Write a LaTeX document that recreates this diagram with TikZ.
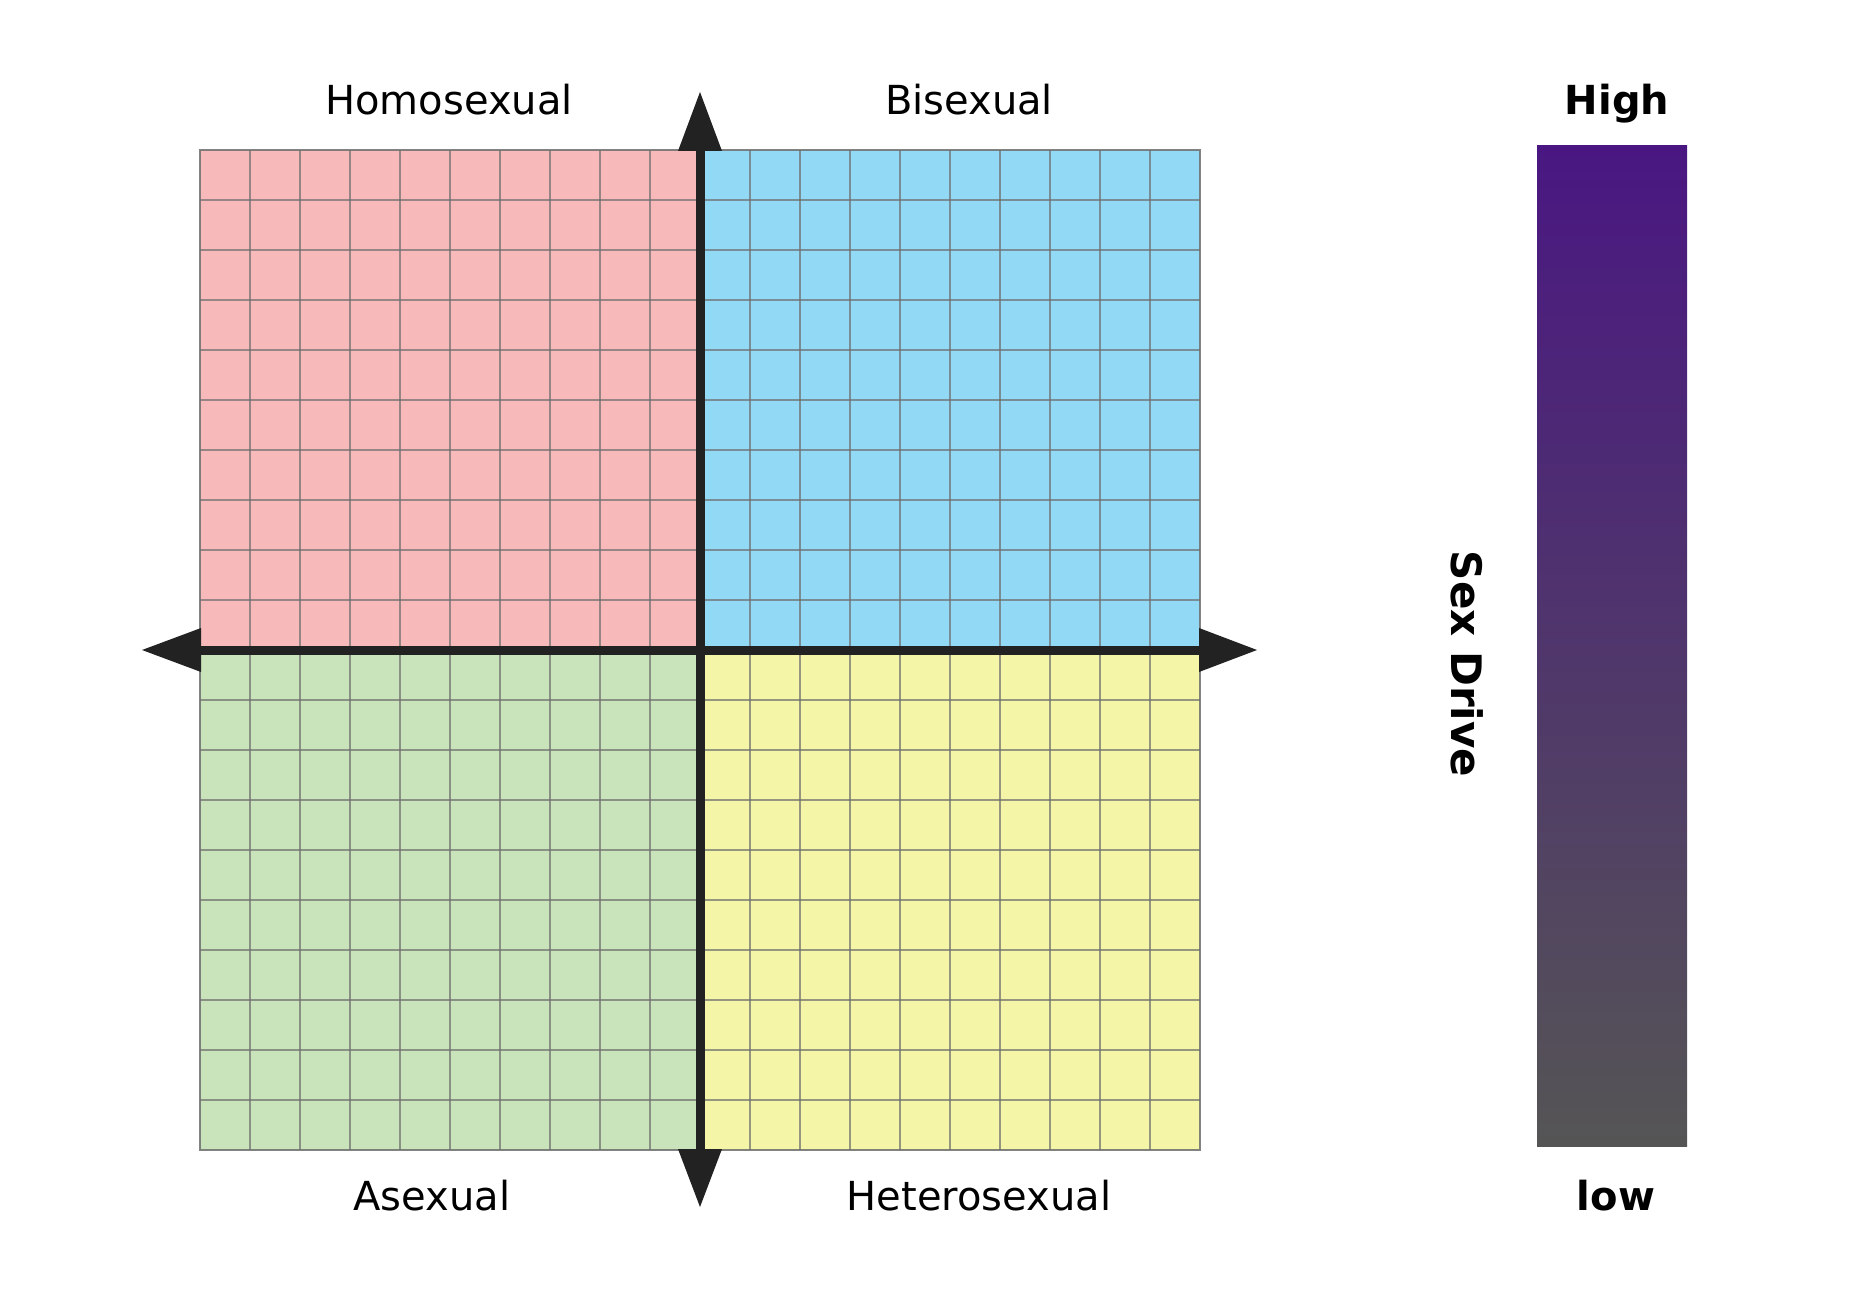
\documentclass[tikz,border=0pt]{standalone}
\usepackage{fontspec}
\setmainfont{DejaVu Sans}
\definecolor{qpink}{RGB}{248,185,186}
\definecolor{qblue}{RGB}{146,217,246}
\definecolor{qgreen}{RGB}{201,228,187}
\definecolor{qyellow}{RGB}{244,245,167}
\definecolor{axiscol}{RGB}{34,34,34}
\definecolor{bartop}{RGB}{74,23,130}
\definecolor{barbot}{RGB}{85,85,85}
\definecolor{linegray}{RGB}{110,110,110}
\tikzset{
  gridline/.style={draw=linegray,draw opacity=0.7,line width=1.6pt},
  frameline/.style={draw=linegray,draw opacity=0.85,line width=2pt},
  axisline/.style={draw=axiscol,line width=9pt},
  arrowhead/.style={fill=axiscol},
  qlabel/.style={anchor=base,inner sep=0pt,font=\fontsize{40}{48}\selectfont},
  blabel/.style={anchor=base,inner sep=0pt,font=\fontsize{40}{48}\selectfont\bfseries}
}
\begin{document}
\begin{tikzpicture}[x=1pt,y=-1pt]
\useasboundingbox[fill=white] (0,0) rectangle (1850,1300);
% quadrants
\fill[qpink]   (200,150) rectangle (700,650);
\fill[qblue]   (700,150) rectangle (1200,650);
\fill[qgreen]  (200,650) rectangle (700,1150);
\fill[qyellow] (700,650) rectangle (1200,1150);
% grid lines
\foreach \i in {1,...,19} {
  \draw[gridline] ({200+50*\i},150) -- ({200+50*\i},1150);
  \draw[gridline] (200,{150+50*\i}) -- (1200,{150+50*\i});
}
\draw[frameline] (200,150) rectangle (1200,1150);
% axes
\draw[axisline] (200,650) -- (1200,650);
\draw[axisline] (700,150) -- (700,1150);
\fill[arrowhead] (142,650) -- (201,628) -- (201,672) -- cycle;
\fill[arrowhead] (1257,650) -- (1199,628) -- (1199,672) -- cycle;
\fill[arrowhead] (700,92) -- (678,151) -- (722,151) -- cycle;
\fill[arrowhead] (700,1207) -- (678,1149) -- (722,1149) -- cycle;
% quadrant labels
\node[qlabel] (homo) at (449,115) {Homosexual};
\node[qlabel] (bi) at (969,115) {Bisexual};
\node[qlabel] (ase) at (432,1210) {Asexual};
\node[qlabel] (hetero) at (979,1210) {Heterosexual};
% gradient bar
\shade[top color=bartop,bottom color=barbot] (1537,146) rectangle (1687,1146);
\node[blabel] (high) at (1617,115) {High};
\node[blabel] (low) at (1616,1210) {low};
\node[anchor=center,inner sep=0pt,rotate=-90,font=\fontsize{42}{50}\selectfont\bfseries] (sexdrive) at (1467,664) {Sex Drive};
\end{tikzpicture}
\end{document}
